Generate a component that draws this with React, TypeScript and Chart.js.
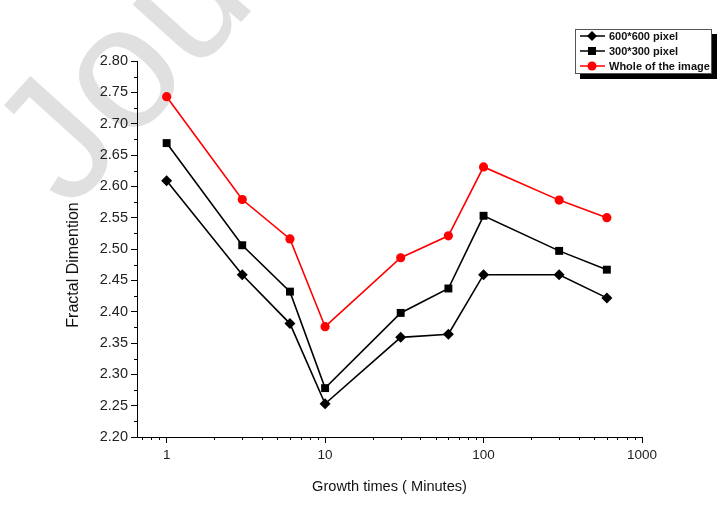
import { useEffect, useRef } from "react";
import { Chart, registerables } from "chart.js";

Chart.register(...registerables);

// Growth time in minutes (log axis) and fractal dimension per sampling window
const growthTimes = [1, 3, 6, 10, 30, 60, 100, 300, 600];
const px600 = [2.609, 2.459, 2.381, 2.253, 2.359, 2.364, 2.459, 2.459, 2.422];
const px300 = [2.669, 2.506, 2.432, 2.278, 2.398, 2.437, 2.553, 2.497, 2.467];
const wholeImage = [2.743, 2.579, 2.516, 2.376, 2.486, 2.521, 2.631, 2.578, 2.55];
const seriesNames = ["600*600 pixel", "300*300 pixel", "Whole of the image"];
const xMajorTicks = [1, 10, 100, 1000];
const yMin = 2.2;
const yMax = 2.8;
const yStep = 0.05;
const xMin = 0.65;
const xMax = 1000;
const xTitle = "Growth times ( Minutes)";
const yTitle = "Fractal Dimention";
const watermarkText = "Journal Pre-proof";

const FONT = "Arial, 'Liberation Sans', sans-serif";

const watermarkPlugin = {
  id: "watermark",
  beforeDraw(chart: any) {
    const ctx = chart.ctx;
    ctx.save();
    ctx.fillStyle = "#ffffff";
    ctx.fillRect(0, 0, chart.width, chart.height);
    ctx.translate(70, 212);
    ctx.rotate((-48 * Math.PI) / 180);
    ctx.fillStyle = "#e0e0e0";
    ctx.font = `175px ${FONT}`;
    ctx.textBaseline = "alphabetic";
    ctx.fillText(watermarkText, 0, 0);
    ctx.restore();
  },
};

const axisExtrasPlugin = {
  id: "axisExtras",
  afterDraw(chart: any) {
    const ctx = chart.ctx;
    const xs = chart.scales.x;
    const ys = chart.scales.y;
    const area = chart.chartArea;
    ctx.save();
    ctx.strokeStyle = "#000";
    ctx.lineWidth = 1;
    ctx.beginPath();
    // y minor ticks halfway between labelled values
    for (let v = yMin + yStep / 2; v < yMax; v += yStep) {
      const y = Math.round(ys.getPixelForValue(v)) + 0.5;
      ctx.moveTo(area.left - 3, y);
      ctx.lineTo(area.left, y);
    }
    // x minor ticks 2..9 of each decade
    for (let d = 0.1; d < xMax; d *= 10) {
      for (let k = 2; k <= 9; k++) {
        const v = k * d;
        if (v < xMin || v > xMax) continue;
        const x = Math.round(xs.getPixelForValue(v)) + 0.5;
        ctx.moveTo(x, area.bottom);
        ctx.lineTo(x, area.bottom + 3);
      }
    }
    ctx.stroke();

    // vertical axis title
    ctx.fillStyle = "#111";
    ctx.font = `16px ${FONT}`;
    ctx.textAlign = "center";
    ctx.textBaseline = "middle";
    ctx.translate(74, 265);
    ctx.rotate(-Math.PI / 2);
    ctx.fillText(yTitle, 0, 0);
    ctx.restore();
  },
};

function drawMarker(ctx: any, style: string, x: number, y: number, color: string) {
  ctx.fillStyle = color;
  ctx.beginPath();
  if (style === "rectRot") {
    ctx.moveTo(x, y - 5);
    ctx.lineTo(x + 5, y);
    ctx.lineTo(x, y + 5);
    ctx.lineTo(x - 5, y);
    ctx.closePath();
  } else if (style === "rect") {
    ctx.rect(x - 4, y - 4, 8, 8);
  } else {
    ctx.arc(x, y, 4.5, 0, Math.PI * 2);
  }
  ctx.fill();
}

const boxLegendPlugin = {
  id: "boxLegend",
  afterDraw(chart: any) {
    const ctx = chart.ctx;
    const left = 575;
    const top = 29;
    const w = 137;
    const h = 45;
    ctx.save();
    ctx.fillStyle = "#000";
    ctx.fillRect(left + 5, top + 5, w, h);
    ctx.fillStyle = "#fff";
    ctx.fillRect(left, top, w, h);
    ctx.strokeStyle = "#555";
    ctx.lineWidth = 1;
    ctx.strokeRect(left + 0.5, top + 0.5, w - 1, h - 1);
    chart.data.datasets.forEach((ds: any, i: number) => {
      const y = top + 7 + i * 15;
      ctx.strokeStyle = ds.borderColor;
      ctx.lineWidth = 1.5;
      ctx.beginPath();
      ctx.moveTo(left + 5, y);
      ctx.lineTo(left + 30, y);
      ctx.stroke();
      drawMarker(ctx, ds.pointStyle, left + 17, y, ds.backgroundColor);
      ctx.fillStyle = "#111";
      ctx.font = `bold 11px ${FONT}`;
      ctx.textBaseline = "middle";
      ctx.textAlign = "left";
      ctx.fillText(ds.label, left + 34, y + 0.5);
    });
    ctx.restore();
  },
};

export default function App() {
  const canvasRef = useRef<HTMLCanvasElement | null>(null);

  useEffect(() => {
    const canvas = canvasRef.current;
    if (!canvas) return;
    const mk = (label: string, values: number[], color: string, style: string, radius: number) => ({
      label,
      data: growthTimes.map((t, i) => ({ x: t, y: values[i] })),
      borderColor: color,
      backgroundColor: color,
      borderWidth: 1.6,
      pointStyle: style,
      pointRadius: radius,
      pointHoverRadius: radius,
      pointBorderWidth: 0,
      tension: 0,
    });
    const chart = new Chart(canvas, {
      type: "line",
      data: {
        datasets: [
          mk(seriesNames[0], px600, "#000000", "rectRot", 5.5),
          mk(seriesNames[1], px300, "#000000", "rect", 5.6),
          mk(seriesNames[2], wholeImage, "#ff0000", "circle", 4.6),
        ],
      },
      options: {
        responsive: false,
        animation: false,
        devicePixelRatio: 1,
        layout: { padding: { left: 0, top: 61, right: 86, bottom: 0 } },
        plugins: { legend: { display: false }, tooltip: { enabled: false } },
        scales: {
          x: {
            type: "logarithmic",
            min: xMin,
            max: xMax,
            afterBuildTicks: (scale: any) => {
              scale.ticks = xMajorTicks.map((v) => ({ value: v, major: true }));
            },
            afterFit: (scale: any) => {
              scale.height = 79;
            },
            ticks: {
              autoSkip: false,
              maxRotation: 0,
              color: "#222",
              font: { family: FONT, size: 13.5 },
              padding: 4,
              callback: (v: any) => String(v),
            },
            grid: { drawOnChartArea: false, drawTicks: true, tickLength: 6, color: "#000", tickColor: "#000" },
            border: { display: true, color: "#000", width: 1 },
            title: {
              display: true,
              text: xTitle,
              color: "#111",
              font: { family: FONT, size: 14.6 },
              padding: { top: 0, bottom: 20 },
            },
          },
          y: {
            min: yMin,
            max: yMax,
            afterFit: (scale: any) => {
              scale.width = 137;
            },
            ticks: {
              stepSize: yStep,
              color: "#222",
              font: { family: FONT, size: 14.5 },
              padding: 3,
              callback: (v: any) => Number(v).toFixed(2),
            },
            grid: { drawOnChartArea: false, drawTicks: true, tickLength: 6, color: "#000", tickColor: "#000" },
            border: { display: true, color: "#000", width: 1 },
            title: { display: false },
          },
        },
      },
      plugins: [watermarkPlugin, axisExtrasPlugin, boxLegendPlugin],
    } as any);
    return () => chart.destroy();
  }, []);

  return (
    <div style={{ position: "absolute", left: 0, top: 0, width: 728, height: 516, background: "#fff" }}>
      <canvas ref={canvasRef} width={728} height={516} style={{ width: 728, height: 516, display: "block" }} />
    </div>
  );
}
